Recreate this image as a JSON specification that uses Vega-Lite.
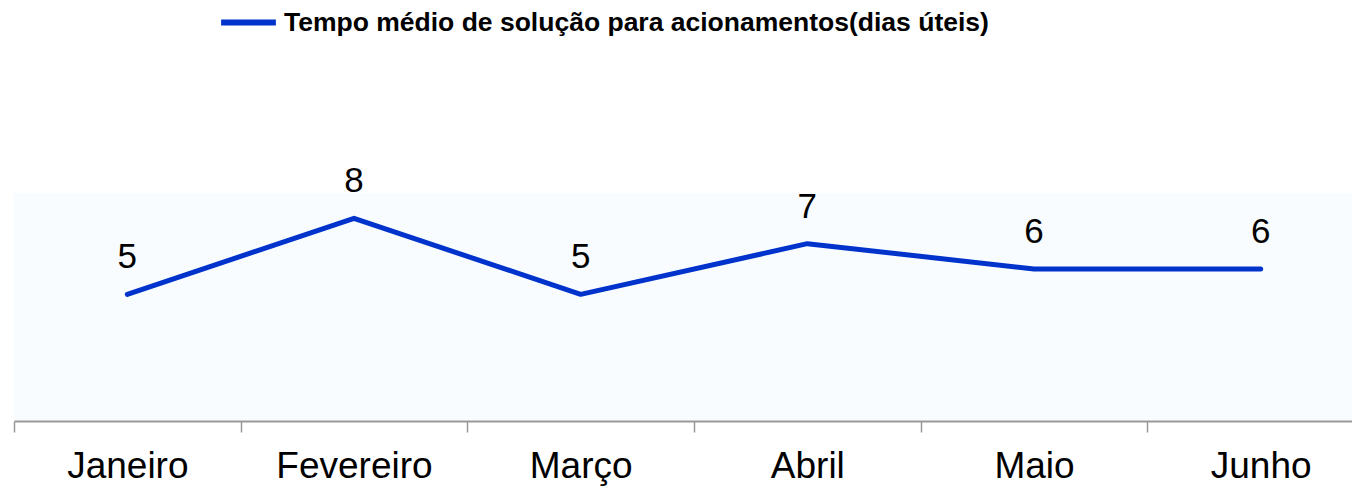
{
  "$schema": "https://vega.github.io/schema/vega-lite/v6.json",
  "width": 1338,
  "height": 228,
  "autosize": {"type": "none"},
  "padding": {"left": 14, "top": 193, "right": 0, "bottom": 67},
  "background": "white",
  "config": {
    "view": {"fill": "#f8fcfe", "stroke": null},
    "font": "Liberation Sans"
  },
  "data": {
    "values": [
      {"mes": "Janeiro", "valor": 5, "serie": "Tempo médio de solução para acionamentos(dias úteis)"},
      {"mes": "Fevereiro", "valor": 8, "serie": "Tempo médio de solução para acionamentos(dias úteis)"},
      {"mes": "Março", "valor": 5, "serie": "Tempo médio de solução para acionamentos(dias úteis)"},
      {"mes": "Abril", "valor": 7, "serie": "Tempo médio de solução para acionamentos(dias úteis)"},
      {"mes": "Maio", "valor": 6, "serie": "Tempo médio de solução para acionamentos(dias úteis)"},
      {"mes": "Junho", "valor": 6, "serie": "Tempo médio de solução para acionamentos(dias úteis)"}
    ]
  },
  "encoding": {
    "x": {
      "field": "mes",
      "type": "nominal",
      "sort": null,
      "scale": {"type": "band", "range": [0, 1360], "paddingInner": 0, "paddingOuter": 0},
      "axis": {
        "title": null,
        "labelAngle": 0,
        "labelFontSize": 37,
        "labelColor": "#000000",
        "labelBaseline": "alphabetic",
        "labelPadding": 45,
        "tickBand": "extent",
        "tickSize": 11,
        "tickColor": "#999999",
        "tickWidth": 1.5,
        "domainColor": "#999999",
        "domainWidth": 2,
        "grid": false
      }
    },
    "y": {
      "field": "valor",
      "type": "quantitative",
      "scale": {"domain": [0, 9], "nice": false, "zero": true},
      "axis": null
    }
  },
  "layer": [
    {
      "mark": {"type": "line", "strokeWidth": 5, "strokeCap": "round", "strokeJoin": "round"},
      "encoding": {
        "color": {
          "field": "serie",
          "type": "nominal",
          "scale": {"range": ["#0033cc"]},
          "legend": {
            "title": null,
            "orient": "none",
            "legendX": 204,
            "legendY": -201,
            "padding": 0,
            "symbolType": "stroke",
            "symbolSize": 3000,
            "symbolStrokeWidth": 6,
            "labelFontSize": 26.5,
            "labelFontWeight": "bold",
            "labelColor": "#000000",
            "labelOffset": 5,
            "labelLimit": 1000
          }
        }
      }
    },
    {
      "mark": {"type": "text", "fontSize": 35, "dy": -26, "baseline": "alphabetic", "color": "#000000"},
      "encoding": {"text": {"field": "valor", "type": "quantitative"}}
    }
  ]
}
